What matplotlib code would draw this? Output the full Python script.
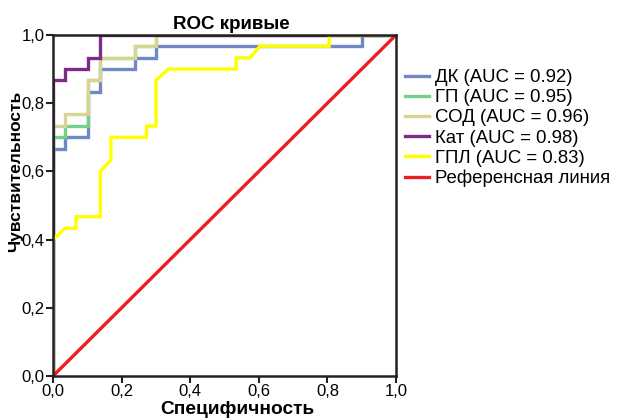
import matplotlib
matplotlib.use("Agg")
import matplotlib.pyplot as plt
from matplotlib.ticker import FuncFormatter

plt.rcParams['font.family'] = ['Liberation Sans', 'DejaVu Sans']

# ROC curves (x = 1 - specificity, y = sensitivity)
dk_x = [0, 0, 0.035, 0.035, 0.103, 0.103, 0.138, 0.138, 0.24, 0.24, 0.30, 0.30, 0.90, 0.90, 1.0]
dk_y = [0, 0.667, 0.667, 0.70, 0.70, 0.833, 0.833, 0.90, 0.90, 0.933, 0.933, 0.967, 0.967, 1.0, 1.0]

gp_x = [0, 0, 0.035, 0.035, 0.103, 0.103, 0.138, 0.138, 0.24, 0.24, 0.30, 0.30, 1.0]
gp_y = [0, 0.70, 0.70, 0.733, 0.733, 0.867, 0.867, 0.933, 0.933, 0.967, 0.967, 1.0, 1.0]

sod_x = [0, 0, 0.035, 0.035, 0.103, 0.103, 0.138, 0.138, 0.24, 0.24, 0.30, 0.30, 1.0]
sod_y = [0, 0.733, 0.733, 0.767, 0.767, 0.867, 0.867, 0.933, 0.933, 0.967, 0.967, 1.0, 1.0]

kat_x = [0, 0, 0.035, 0.035, 0.103, 0.103, 0.138, 0.138, 1.0]
kat_y = [0, 0.867, 0.867, 0.90, 0.90, 0.933, 0.933, 1.0, 1.0]

gpl_x = [0, 0, 0.035, 0.067, 0.067, 0.138, 0.138, 0.169, 0.169, 0.273, 0.273, 0.30, 0.30,
         0.336, 0.534, 0.534, 0.574, 0.603, 0.805, 0.805, 1.0]
gpl_y = [0, 0.40, 0.433, 0.433, 0.467, 0.467, 0.60, 0.633, 0.70, 0.70, 0.733, 0.733, 0.867,
         0.90, 0.90, 0.933, 0.933, 0.967, 0.967, 1.0, 1.0]

ref_x = [0, 1]
ref_y = [0, 1]

labels = ['ДК (AUC = 0.92)', 'ГП (AUC = 0.95)', 'СОД (AUC = 0.96)',
          'Кат (AUC = 0.98)', 'ГПЛ (AUC = 0.83)', 'Референсная линия']
colors = ['#7088c6', '#72d088', '#d8d592', '#7d2a88', '#ffff00', '#ee1c24']

fig = plt.figure(figsize=(6.17, 4.18), dpi=100)
ax = fig.add_axes([53 / 617, 42 / 418, 343 / 617, 341 / 418])

series = [(dk_x, dk_y), (gp_x, gp_y), (sod_x, sod_y), (kat_x, kat_y), (gpl_x, gpl_y), (ref_x, ref_y)]
for (xs, ys), lab, c in zip(series, labels, colors):
    ax.plot(xs, ys, color=c, lw=2.4, label=lab, solid_joinstyle='miter')

ax.set_xlim(0, 1)
ax.set_ylim(0, 1)
ticks = [0, 0.2, 0.4, 0.6, 0.8, 1.0]
ax.set_xticks(ticks)
ax.set_yticks(ticks)
fmt = FuncFormatter(lambda v, p: f'{v:.1f}'.replace('.', ','))
ax.xaxis.set_major_formatter(fmt)
ax.yaxis.set_major_formatter(fmt)
ax.tick_params(direction='out', length=5, width=1.5, labelsize=12, pad=1, color='#222222')
for s in ax.spines.values():
    s.set_linewidth(1.8)
    s.set_color('#222222')

ax.set_title('ROC кривые', fontsize=13.5, fontweight='bold', pad=4, x=0.52)
ax.set_xlabel('Специфичность', fontsize=13.8, fontweight='bold', labelpad=0)
ax.xaxis.set_label_coords(0.536, -0.073)
ax.set_ylabel('Чувствительность', fontsize=12.5, fontweight='bold', labelpad=2)
ax.yaxis.set_label_coords(-0.086, 0.60)

fig.legend(loc='upper left', bbox_to_anchor=(405 / 617, 1 - 69 / 418), frameon=False,
           fontsize=13.4, handlelength=1.3, handletextpad=0.3, labelspacing=0.17,
           borderpad=0, borderaxespad=0)

fig.savefig('out.png', dpi=100)
